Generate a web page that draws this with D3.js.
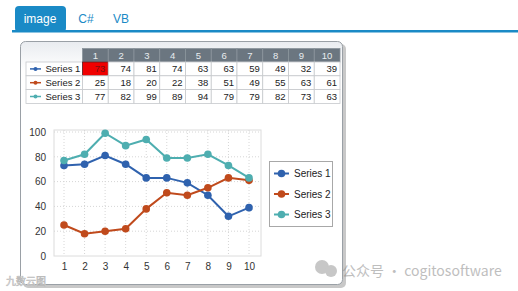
<!DOCTYPE html>
<html>
<head>
<meta charset="utf-8">
<script src="https://cdn.jsdelivr.net/npm/d3@7"></script>
<style>
  body { margin: 0; background: #fff; font-family: Arial, "Liberation Sans", sans-serif; }
</style>
</head>
<body>
<svg id="container" width="518" height="291"></svg>
<script>
let width = 518,
    height = 291;

let categories = [1, 2, 3, 4, 5, 6, 7, 8, 9, 10]
let seriesNames = ["Series 1", "Series 2", "Series 3"]
let series1 = [73, 74, 81, 74, 63, 63, 59, 49, 32, 39]
let series2 = [25, 18, 20, 22, 38, 51, 49, 55, 63, 61]
let series3 = [77, 82, 99, 89, 94, 79, 79, 82, 73, 63]
let yTicks = [0, 20, 40, 60, 80, 100]
let tabs = ["image", "C#", "VB"]
let colors = ["#2f62ae", "#c04a1c", "#4eaeb0"]

let allSeries = [series1, series2, series3]

let svg = d3.select("#container")

// tabs
svg.append("rect")
    .attr("x", 15).attr("y", 6)
    .attr("width", 51).attr("height", 26)
    .attr("rx", 4)
    .attr("fill", "#1a8ac6")
let tabX = [40, 86, 121]
tabs.forEach((t, i) => {
    svg.append("text")
        .attr("x", tabX[i]).attr("y", 23)
        .attr("text-anchor", "middle")
        .attr("font-size", "12px")
        .attr("fill", i == 0 ? "#fff" : "#1a8ac6")
        .text(t)
})
svg.append("rect")
    .attr("x", 12).attr("y", 30)
    .attr("width", width - 12).attr("height", 2.5)
    .attr("fill", "#1a8ac6")

// panel with shadow
let defs = svg.append("defs")
let grad = defs.append("linearGradient")
    .attr("id", "panelGrad").attr("x1", 0).attr("y1", 0).attr("x2", 0).attr("y2", 1)
grad.append("stop").attr("offset", "0%").attr("stop-color", "#e9ecf0")
grad.append("stop").attr("offset", "12%").attr("stop-color", "#ffffff")

svg.append("rect")
    .attr("x", 23).attr("y", 44)
    .attr("width", 323).attr("height", 244)
    .attr("rx", 5)
    .attr("fill", "#c8c8c8")
svg.append("rect")
    .attr("x", 20.5).attr("y", 41.5)
    .attr("width", 322).attr("height", 243)
    .attr("rx", 5)
    .attr("fill", "url(#panelGrad)")
    .attr("stroke", "#9aa0a6")

// table
let tableX = 82.5, colW = 25.75, tableTop = 48.5, headH = 13.5, rowH = 13.8, labelX = 26
let g = svg.append("g").attr("font-size", "9.5px").attr("fill", "#222")

categories.forEach((c, i) => {
    g.append("rect")
        .attr("x", tableX + i * colW).attr("y", tableTop)
        .attr("width", colW).attr("height", headH)
        .attr("fill", "#6b7680")
        .attr("stroke", "#8a949c").attr("stroke-width", 0.8)
    g.append("text")
        .attr("x", tableX + i * colW + colW / 2).attr("y", tableTop + headH - 3)
        .attr("text-anchor", "middle")
        .attr("fill", "#e8ecef")
        .text(c)
})

allSeries.forEach((s, r) => {
    let y0 = tableTop + headH + r * rowH
    g.append("rect")
        .attr("x", labelX).attr("y", y0)
        .attr("width", tableX - labelX).attr("height", rowH)
        .attr("fill", "#fff").attr("stroke", "#c6c9cc").attr("stroke-width", 0.8)
    g.append("line")
        .attr("x1", labelX + 4).attr("x2", labelX + 15)
        .attr("y1", y0 + rowH / 2).attr("y2", y0 + rowH / 2)
        .attr("stroke", colors[r]).attr("stroke-width", 1.5)
    g.append("circle")
        .attr("cx", labelX + 9.5).attr("cy", y0 + rowH / 2).attr("r", 2)
        .attr("fill", colors[r])
    g.append("text")
        .attr("x", labelX + 19.5).attr("y", y0 + rowH - 3.5)
        .text(seriesNames[r])
    s.forEach((v, i) => {
        g.append("rect")
            .attr("x", tableX + i * colW).attr("y", y0)
            .attr("width", colW).attr("height", rowH)
            .attr("fill", (r == 0 && i == 0) ? "#f00000" : "#fff")
            .attr("stroke", (r == 0 && i == 0) ? "#5a2020" : "#c6c9cc").attr("stroke-width", 0.8)
        g.append("text")
            .attr("x", tableX + (i + 1) * colW - 3).attr("y", y0 + rowH - 3.5)
            .attr("text-anchor", "end")
            .attr("fill", (r == 0 && i == 0) ? "#7a1010" : "#222")
            .text(v)
    })
})

// chart
let xScale = d3.scaleLinear()
    .domain([1, 10])
    .range([64, 249])
let yScale = d3.scaleLinear()
    .domain([0, 100])
    .range([256, 132])

let plot = svg.append("g")
plot.append("rect")
    .attr("x", 54).attr("y", 130)
    .attr("width", 207).attr("height", 126)
    .attr("fill", "#fff")
    .attr("stroke", "#dcdcdc")

// grid
plot.selectAll(".vgrid")
    .data(categories)
    .enter()
    .append("line")
    .attr("x1", d => xScale(d)).attr("x2", d => xScale(d))
    .attr("y1", 130).attr("y2", 256)
    .attr("stroke", "#d6d6d6")
    .attr("stroke-dasharray", "1,2")
plot.selectAll(".hgrid")
    .data(yTicks.slice(1))
    .enter()
    .append("line")
    .attr("x1", 54).attr("x2", 261)
    .attr("y1", d => yScale(d)).attr("y2", d => yScale(d))
    .attr("stroke", "#d6d6d6")
    .attr("stroke-dasharray", "1,2")

let yAxis = svg.append("g")
    .attr("transform", "translate(54,0)")
    .call(d3.axisLeft(yScale).tickValues(yTicks).tickSize(0).tickPadding(8))
yAxis.select(".domain").remove()
yAxis.selectAll("text").attr("font-size", "10px").attr("fill", "#333")
    .attr("font-family", "Arial, 'Liberation Sans', sans-serif")

let xAxis = svg.append("g")
    .attr("transform", "translate(0,256)")
    .call(d3.axisBottom(xScale).tickValues(categories).tickFormat(d3.format("d")).tickSize(0).tickPadding(7))
xAxis.select(".domain").remove()
xAxis.selectAll("text").attr("font-size", "10px").attr("fill", "#333")
    .attr("font-family", "Arial, 'Liberation Sans', sans-serif")

let Valueline = d3.line()
    .x((d, i) => xScale(categories[i]))
    .y(d => yScale(d))

allSeries.forEach((s, r) => {
    plot.append("path")
        .datum(s)
        .attr("d", Valueline)
        .attr("fill", "none")
        .attr("stroke", colors[r])
        .attr("stroke-width", 2)
    plot.selectAll(".pt" + r)
        .data(s)
        .enter()
        .append("circle")
        .attr("cx", (d, i) => xScale(categories[i]))
        .attr("cy", d => yScale(d))
        .attr("r", 3.8)
        .attr("fill", colors[r])
})

// legend
let legend = svg.append("g")
legend.append("rect")
    .attr("x", 269.5).attr("y", 161.5)
    .attr("width", 63).attr("height", 65)
    .attr("fill", "#fff")
    .attr("stroke", "#a8a8a8")
seriesNames.forEach((n, i) => {
    let ly = 173.5 + i * 20.5
    legend.append("line")
        .attr("x1", 274).attr("x2", 289)
        .attr("y1", ly).attr("y2", ly)
        .attr("stroke", colors[i]).attr("stroke-width", 2)
    legend.append("circle")
        .attr("cx", 281.5).attr("cy", ly).attr("r", 3.8)
        .attr("fill", colors[i])
    legend.append("text")
        .attr("x", 294).attr("y", ly + 3.5)
        .attr("font-size", "10px")
        .attr("fill", "#222")
        .text(n)
})

// watermark
let wm = svg.append("g").attr("opacity", 0.55)
wm.append("circle").attr("cx", 322).attr("cy", 267).attr("r", 7).attr("fill", "#9a9a9a")
wm.append("circle").attr("cx", 331).attr("cy", 271).attr("r", 6).attr("fill", "#9a9a9a")
wm.append("text")
    .attr("x", 342).attr("y", 276)
    .attr("font-family", "'Noto Sans CJK SC', 'Noto Sans', sans-serif")
    .attr("font-size", "14px")
    .attr("fill", "#8a8a8a")
    .text("公众号 · cogitosoftware")
svg.append("text")
    .attr("x", 6).attr("y", 285)
    .attr("font-family", "'Noto Sans CJK SC', sans-serif")
    .attr("font-size", "10px")
    .attr("fill", "#ffffff")
    .attr("stroke", "#bbbbbb").attr("stroke-width", 0.6)
    .text("九数云图")
</script>
</body>
</html>
